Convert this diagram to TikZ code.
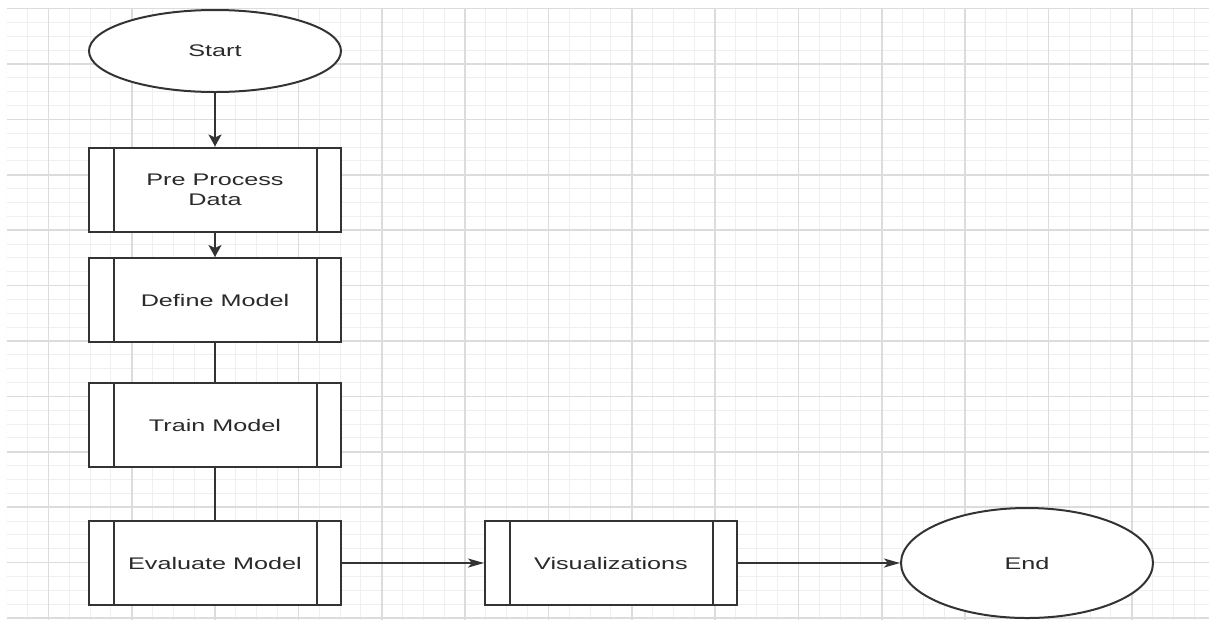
\documentclass[tikz,border=0pt]{standalone}
\usepackage{fontspec}
\newfontfamily\labelfont[FakeStretch=1.5]{Liberation Sans}
\usetikzlibrary{shapes.geometric,arrows.meta}

\definecolor{edge}{HTML}{333333}
\definecolor{ink}{HTML}{2A2A2A}
\definecolor{gridlight}{HTML}{EFEFEF}
\definecolor{griddark}{HTML}{DCDCDC}

\tikzset{
  gridminor/.style={draw=gridlight, line width=1pt},
  gridmajor/.style={draw=griddark, line width=1.7pt},
  labeltext/.style={font=\labelfont\fontsize{16.8}{20}\selectfont, text=ink, align=center},
  procbox/.style={rectangle, draw=edge, line width=2pt, fill=white,
    minimum width=252pt, minimum height=84pt, inner sep=0pt, labeltext},
  terminal/.style={ellipse, draw=edge, line width=2pt, fill=white,
    minimum width=252pt, inner sep=0pt, labeltext},
  link/.style={draw=edge, line width=2pt},
  downarrow/.style={link, -{Stealth[length=12pt,width=13pt,inset=3pt]}},
  rightarrow/.style={link, -{Stealth[length=16pt,width=9pt,inset=4pt]}},
}

\begin{document}
\begin{tikzpicture}[x=1pt,y=-1pt]
  \useasboundingbox[fill=white] (0,0) rectangle (1209,625);

  % background grid: minor cells of 20.83 x 13.85, major every fourth line
  \begin{scope}
    \clip (6.8,8) rectangle (1209,620);
    \foreach \i in {0,...,58}
      \draw[gridminor] ({6.8+\i*20.8333},8) -- ({6.8+\i*20.8333},620);
    \foreach \j in {0,...,44}
      \draw[gridminor] (6.8,{8.6+\j*13.85}) -- (1209,{8.6+\j*13.85});
    \foreach \i in {0,...,14}
      \draw[gridmajor] ({48.5+\i*83.333},8) -- ({48.5+\i*83.333},620);
    \foreach \j in {0,...,11}
      \draw[gridmajor] (6.8,{8.6+\j*55.4}) -- (1209,{8.6+\j*55.4});
  \end{scope}

  % flowchart nodes
  \node[terminal, minimum height=82pt] (start) at (215,51) {Start};
  \node[procbox] (prep)  at (215,189.5) {Pre Process\\Data};
  \node[procbox] (def)   at (215,300)   {Define Model};
  \node[procbox] (train) at (215,425)   {Train Model};
  \node[procbox] (eval)  at (215,563)   {Evaluate Model};
  \node[procbox] (vis)   at (611,563)   {Visualizations};
  \node[terminal, minimum height=110pt] (finish) at (1027,563) {End};

  % inner side bars of the subprocess boxes
  \foreach \n in {prep,def,train,eval,vis} {
    \draw[link] ([xshift=25.5pt]\n.north west) -- ([xshift=25.5pt]\n.south west);
    \draw[link] ([xshift=-25.5pt]\n.north east) -- ([xshift=-25.5pt]\n.south east);
  }

  % connectors
  \draw[downarrow] (start) -- (prep);
  \draw[downarrow] (prep) -- (def);
  \draw[link] (def) -- (train);
  \draw[link] (train) -- (eval);
  \draw[rightarrow] (eval) -- (vis);
  \draw[rightarrow] (vis) -- (finish);
\end{tikzpicture}
\end{document}
